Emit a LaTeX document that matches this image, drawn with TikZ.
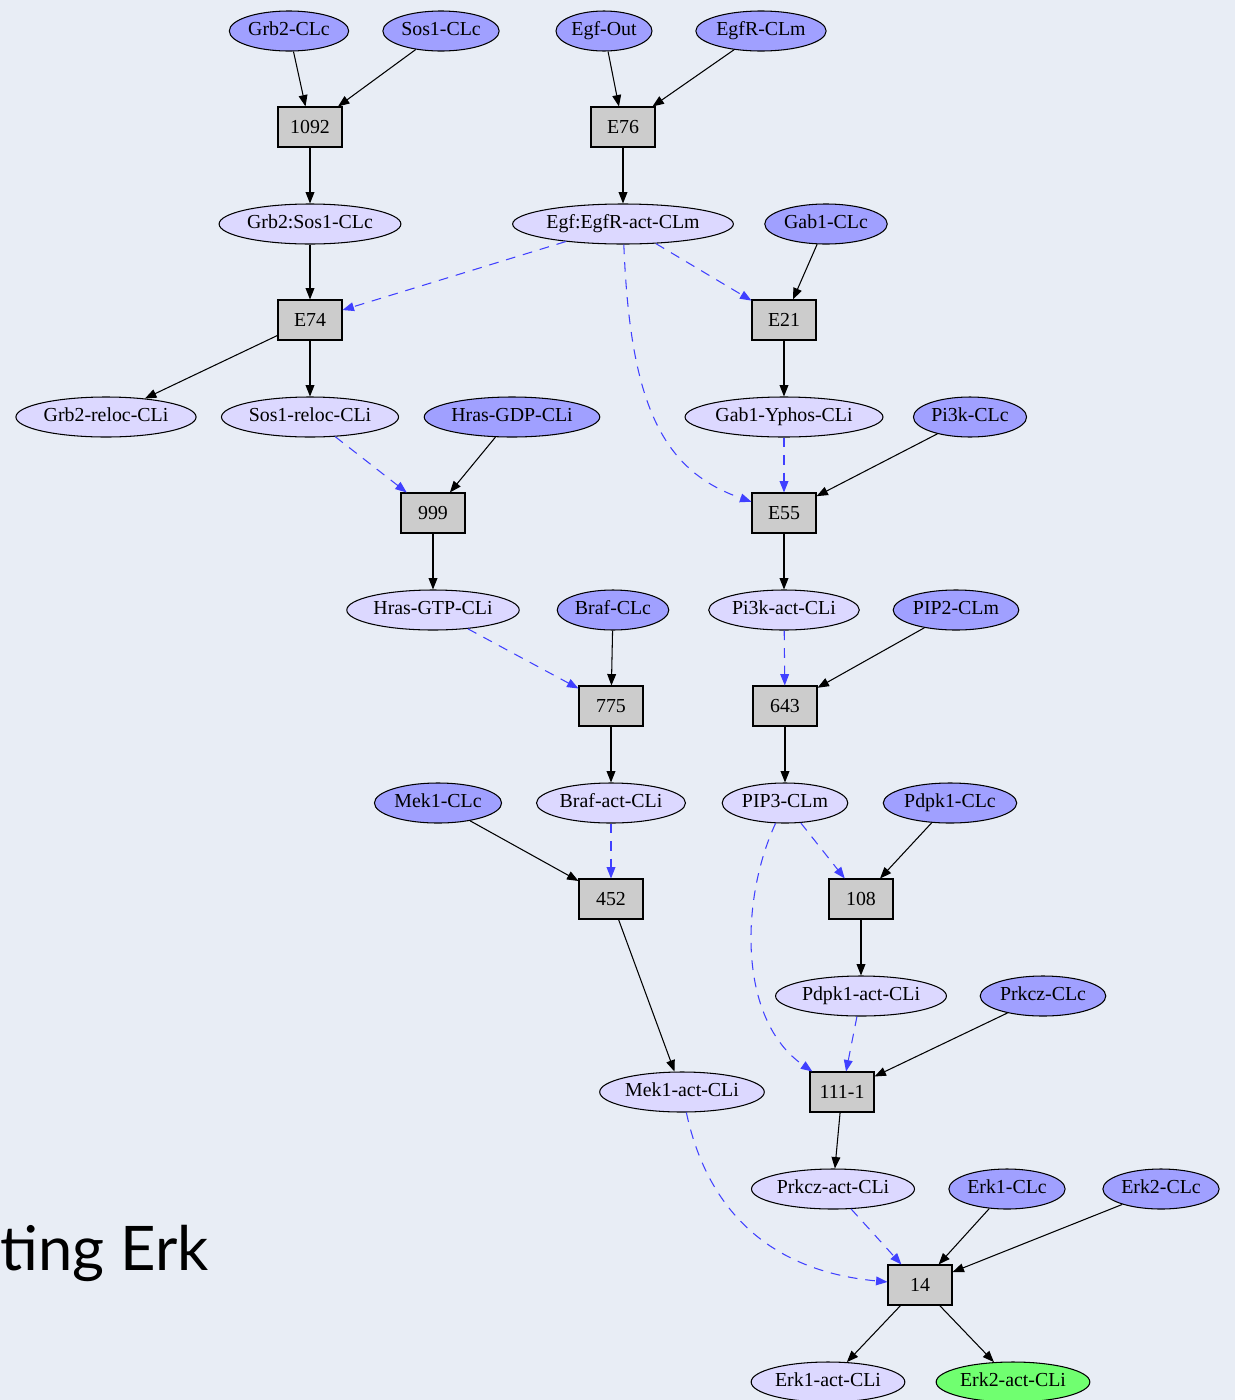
\documentclass[tikz,border=0pt]{standalone}
\usepackage{fontspec}
\setmainfont{Liberation Serif}
\newfontfamily\titlefont{Lato}
\usetikzlibrary{shapes.geometric,arrows.meta}
\definecolor{paper}{RGB}{232,237,245}
\definecolor{speciesfill}{RGB}{160,160,255}
\definecolor{activefill}{RGB}{220,216,255}
\definecolor{outfill}{RGB}{112,255,112}
\definecolor{boxfill}{RGB}{204,204,204}
\definecolor{modblue}{RGB}{64,64,255}

\begin{document}
\begin{tikzpicture}[x=0.02cm, y=-0.02cm,
    every node/.style={font=\fontsize{11.3}{13}\selectfont},
    mol/.style={draw, ellipse, line width=0.6pt, inner xsep=0.8pt,
      inner ysep=2.8pt, text height=8pt, text depth=2.5pt},
    species/.style={mol, fill=speciesfill},
    active/.style={mol, fill=activefill},
    output/.style={mol, fill=outfill},
    reaction/.style={draw, rectangle, fill=boxfill, line width=0.6pt,
      minimum width=1.28cm, minimum height=0.8cm},
    flow/.style={line width=0.6pt, -{Triangle[length=6.5pt,width=5pt]}},
    modifier/.style={flow, modblue, dash pattern=on 5.5pt off 4.5pt}]

    \fill[paper] (0, 0) rectangle (1235, 1400);
    \useasboundingbox (0, 0) rectangle (1235, 1400);

    \node[anchor=base west, inner sep=0pt,
      font=\titlefont\fontsize{35}{38}\selectfont] (title) at (0, 1270) {ting Erk};

    % species and reactions, row by row
    \node[species] (grbc) at (289, 31) {Grb2-CLc};
    \node[species] (sosc) at (441, 31) {Sos1-CLc};
    \node[species] (egfout) at (604, 31) {Egf-Out};
    \node[species] (egfrm) at (761, 31) {EgfR-CLm};

    \node[reaction] (r1092) at (310, 127) {1092};
    \node[reaction] (re76) at (623, 127) {E76};

    \node[active] (grbsos) at (310, 224) {Grb2:Sos1-CLc};
    \node[active] (egfact) at (623, 224) {Egf:EgfR-act-CLm};
    \node[species] (gabc) at (826, 224) {Gab1-CLc};

    \node[reaction] (re74) at (310, 320) {E74};
    \node[reaction] (re21) at (784, 320) {E21};

    \node[active] (grbreloc) at (106, 417) {Grb2-reloc-CLi};
    \node[active] (sosreloc) at (310, 417) {Sos1-reloc-CLi};
    \node[species] (hrasgdp) at (512, 417) {Hras-GDP-CLi};
    \node[active] (gabyp) at (784, 417) {Gab1-Yphos-CLi};
    \node[species] (pikc) at (970, 417) {Pi3k-CLc};

    \node[reaction] (r999) at (433, 513) {999};
    \node[reaction] (re55) at (784, 513) {E55};

    \node[active] (hrasgtp) at (433, 610) {Hras-GTP-CLi};
    \node[species] (brafc) at (613, 610) {Braf-CLc};
    \node[active] (pikact) at (784, 610) {Pi3k-act-CLi};
    \node[species] (piptwo) at (956, 610) {PIP2-CLm};

    \node[reaction] (r775) at (611, 706) {775};
    \node[reaction] (r643) at (785, 706) {643};

    \node[species] (mekc) at (438, 803) {Mek1-CLc};
    \node[active] (brafact) at (611, 803) {Braf-act-CLi};
    \node[active] (pipthree) at (785, 803) {PIP3-CLm};
    \node[species] (pdpkc) at (950, 803) {Pdpk1-CLc};

    \node[reaction] (r452) at (611, 899) {452};
    \node[reaction] (r108) at (861, 899) {108};

    \node[active] (pdpkact) at (861, 996) {Pdpk1-act-CLi};
    \node[species] (prkczc) at (1043, 996) {Prkcz-CLc};

    \node[active] (mekact) at (682, 1092) {Mek1-act-CLi};
    \node[reaction] (r1111) at (842, 1092) {111-1};

    \node[active] (prkczact) at (833, 1189) {Prkcz-act-CLi};
    \node[species] (erkonec) at (1007, 1189) {Erk1-CLc};
    \node[species] (erktwoc) at (1161, 1189) {Erk2-CLc};

    \node[reaction] (r14) at (920, 1285) {14};

    \node[active] (erkoneact) at (828, 1382) {Erk1-act-CLi};
    \node[output] (erktwoact) at (1013, 1382) {Erk2-act-CLi};

    % reactants and products
    \draw[flow] (grbc) -- (r1092);
    \draw[flow] (sosc) -- (r1092);
    \draw[flow] (egfout) -- (re76);
    \draw[flow] (egfrm) -- (re76);
    \draw[flow] (r1092) -- (grbsos);
    \draw[flow] (re76) -- (egfact);
    \draw[flow] (grbsos) -- (re74);
    \draw[flow] (gabc) -- (re21);
    \draw[flow] (re74) -- (grbreloc);
    \draw[flow] (re74) -- (sosreloc);
    \draw[flow] (re21) -- (gabyp);
    \draw[flow] (hrasgdp) -- (r999);
    \draw[flow] (pikc) -- (re55);
    \draw[flow] (r999) -- (hrasgtp);
    \draw[flow] (re55) -- (pikact);
    \draw[flow] (brafc) -- (r775);
    \draw[flow] (piptwo) -- (r643);
    \draw[flow] (r775) -- (brafact);
    \draw[flow] (r643) -- (pipthree);
    \draw[flow] (mekc) -- (r452);
    \draw[flow] (pdpkc) -- (r108);
    \draw[flow] (r452) -- (mekact);
    \draw[flow] (r108) -- (pdpkact);
    \draw[flow] (prkczc) -- (r1111);
    \draw[flow] (r1111) -- (prkczact);
    \draw[flow] (erkonec) -- (r14);
    \draw[flow] (erktwoc) -- (r14);
    \draw[flow] (r14) -- (erkoneact);
    \draw[flow] (r14) -- (erktwoact);

    % modifiers
    \draw[modifier] (egfact) -- (re74);
    \draw[modifier] (egfact) -- (re21);
    \draw[modifier] (egfact) .. controls (630, 400) and (660, 470) .. (re55);
    \draw[modifier] (sosreloc) -- (r999);
    \draw[modifier] (gabyp) -- (re55);
    \draw[modifier] (hrasgtp) -- (r775);
    \draw[modifier] (pikact) -- (r643);
    \draw[modifier] (brafact) -- (r452);
    \draw[modifier] (pipthree) -- (r108);
    \draw[modifier] (pipthree) .. controls (740, 900) and (738, 1020) .. (r1111);
    \draw[modifier] (pdpkact) -- (r1111);
    \draw[modifier] (mekact) .. controls (705, 1200) and (760, 1270) .. (r14);
    \draw[modifier] (prkczact) -- (r14);
\end{tikzpicture}
\end{document}
